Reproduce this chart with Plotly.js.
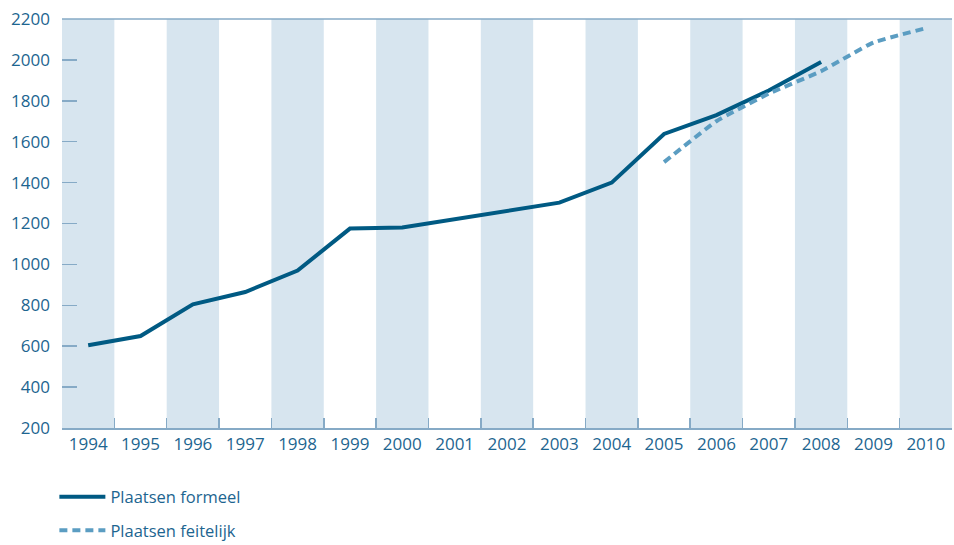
<!DOCTYPE html>
<html>
<head>
<meta charset="utf-8">
<script src="https://cdn.plot.ly/plotly-3.0.1.min.js"></script>
<style>html,body{margin:0;padding:0;background:#fff;}#chart{width:954px;height:545px;}</style>
</head>
<body>
<div id="chart"></div>
<script>
const years = ['1994','1995','1996','1997','1998','1999','2000','2001','2002','2003','2004','2005','2006','2007','2008','2009','2010'];
const formeelYears = ['1994','1995','1996','1997','1998','1999','2000','2001','2002','2003','2004','2005','2006','2007','2008'];
const formeelValues = [605, 650, 805, 865, 970, 1175, 1180, 1220, 1264, 1302, 1400, 1638, 1730, 1850, 1990];
const feitelijkYears = ['2005','2006','2007','2008','2009','2010'];
const feitelijkValues = [1500, 1700, 1835, 1945, 2085, 2155];
const yTicks = [200,400,600,800,1000,1200,1400,1600,1800,2000,2200];

const textColor = '#1d6590';
const shapes = [];
years.forEach((y, i) => {
  if (i % 2 === 0) {
    shapes.push({type:'rect', xref:'x', yref:'paper', x0:i-0.5, x1:i+0.5, y0:0, y1:1,
      fillcolor:'#d7e5ef', line:{width:0}, layer:'below'});
  }
});
shapes.push({type:'line', xref:'paper', yref:'paper', x0:0, x1:1, y0:1, y1:1,
  line:{color:'#86aac6', width:1.5}});

const traces = [
  {x: formeelYears, y: formeelValues, type:'scatter', mode:'lines', name:'Plaatsen formeel',
   legendgroup:'a', line:{color:'#005a83', width:4}},
  {x: feitelijkYears, y: feitelijkValues, type:'scatter', mode:'lines', name:'Plaatsen feitelijk',
   legendgroup:'b', line:{color:'#5b9dc2', width:4, dash:'8px,5px', shape:'spline', smoothing:0.4}}
];

const layout = {
  width:954, height:545,
  margin:{l:62, r:2, t:19, b:117, autoexpand:false},
  paper_bgcolor:'#fff', plot_bgcolor:'rgba(0,0,0,0)',
  font:{family:'"Open Sans", sans-serif', size:16.5, color:textColor},
  xaxis:{type:'category', categoryarray:years, range:[-0.5,16.5], fixedrange:true,
    showgrid:false, zeroline:false, showline:true, linecolor:'#86aac6', linewidth:1.5,
    ticks:'inside', tickson:'boundaries', ticklen:10, tickcolor:'#86aac6', tickwidth:1.5,
    ticklabelstandoff:0, automargin:false,
    tickfont:{size:17, color:textColor}},
  yaxis:{range:[200,2200], tickvals:yTicks, showgrid:false, zeroline:false, showline:false,
    ticks:'inside', ticklen:15, tickcolor:'#86aac6', tickwidth:1.5,
    ticklabelstandoff:11, automargin:false,
    tickfont:{size:17, color:textColor}},
  shapes: shapes,
  showlegend:true,
  legend:{orientation:'v', xref:'container', yref:'container', x:0.057, xanchor:'left',
    y:0.12, yanchor:'top',
    tracegroupgap:9, font:{size:16.5, color:textColor}, itemwidth:46, bgcolor:'rgba(0,0,0,0)'}
};

Plotly.newPlot('chart', traces, layout, {displayModeBar:false, staticPlot:true});
</script>
</body>
</html>
